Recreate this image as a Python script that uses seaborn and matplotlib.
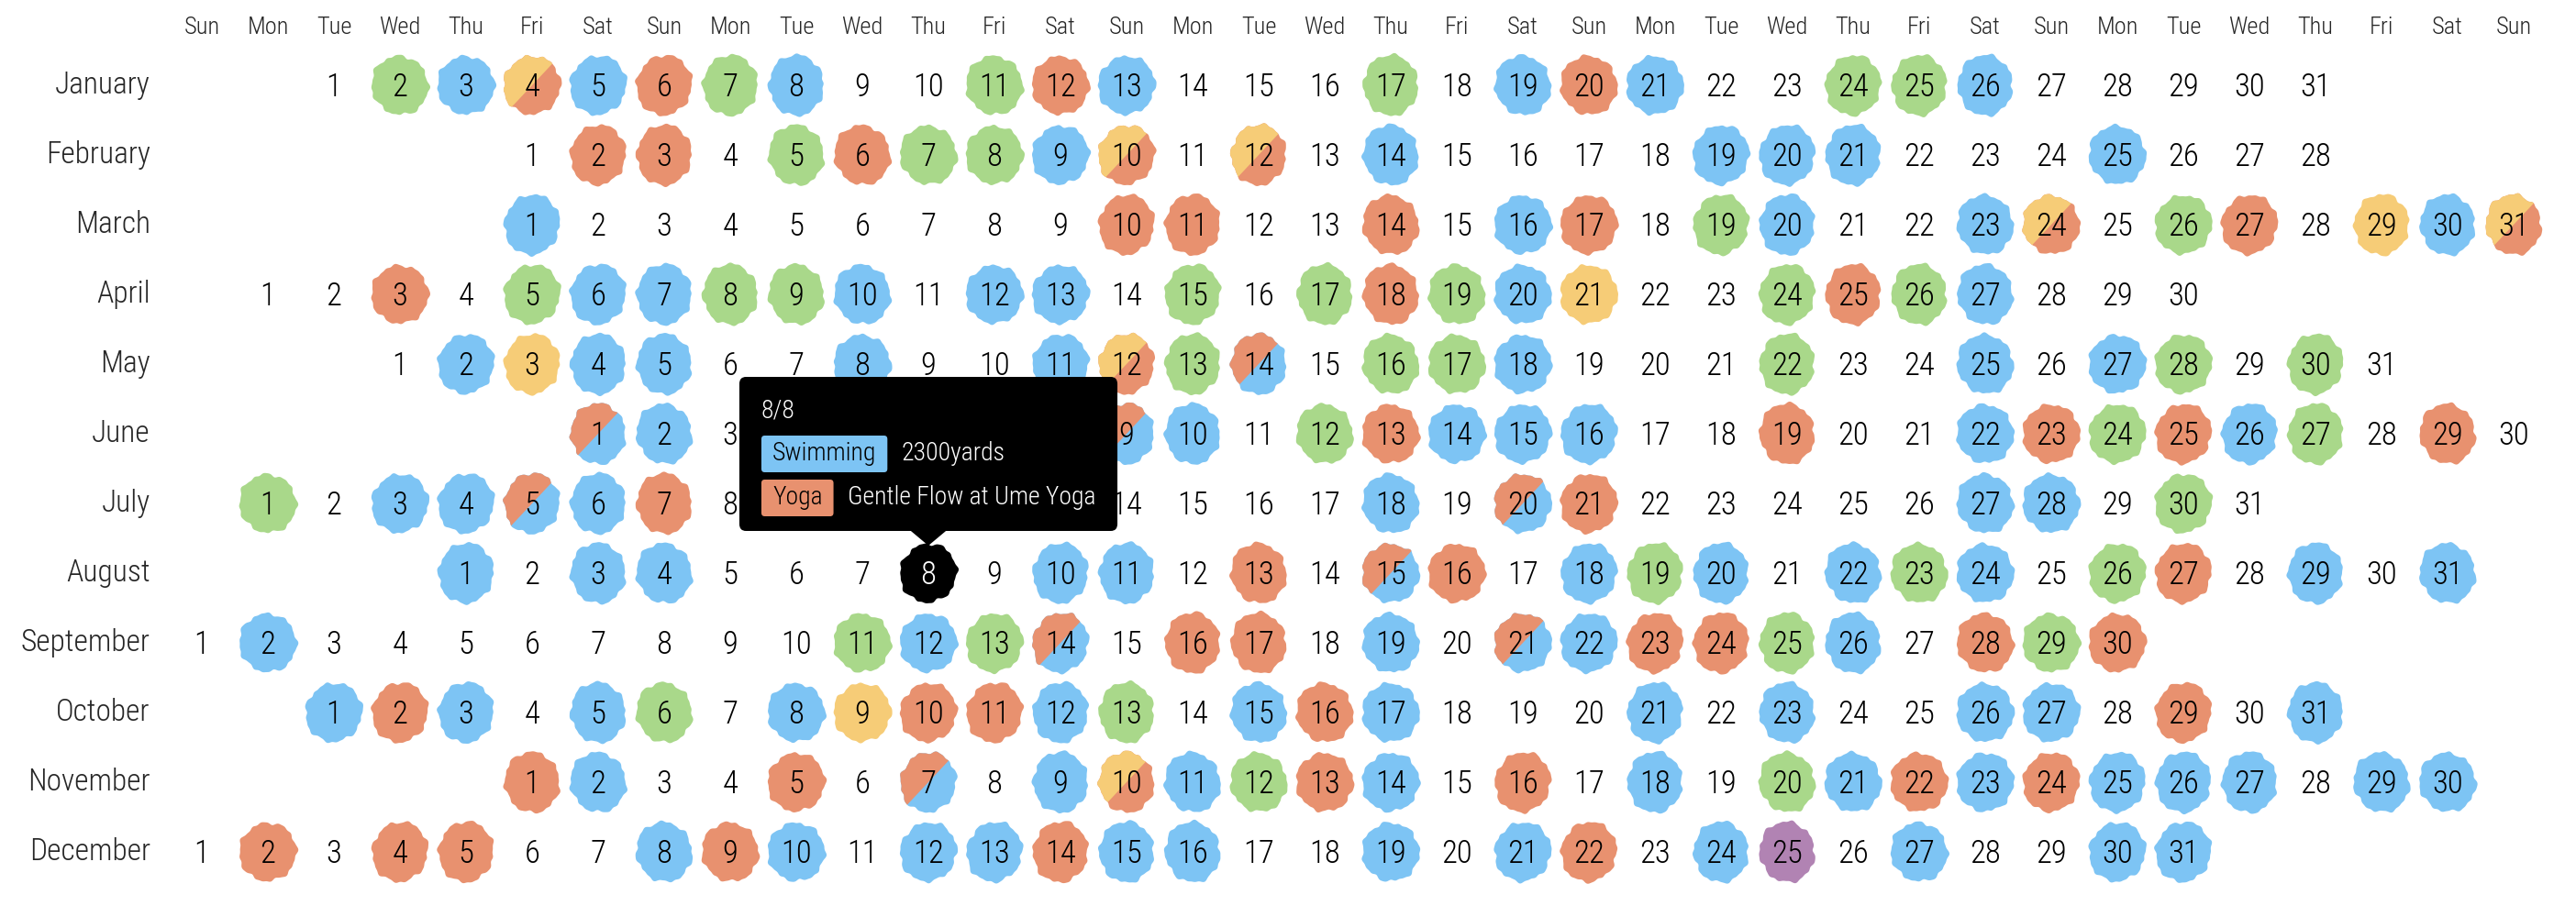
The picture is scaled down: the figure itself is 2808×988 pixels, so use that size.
import datetime
import numpy as np
import pandas as pd
import matplotlib
matplotlib.use("Agg")
import matplotlib.pyplot as plt
from matplotlib import font_manager
from matplotlib.patches import Polygon, FancyBboxPatch
import seaborn as sns

YEAR = 2019
month_names = ["January", "February", "March", "April", "May", "June", "July",
               "August", "September", "October", "November", "December"]
weekday_names = ["Sun", "Mon", "Tue", "Wed", "Thu", "Fri", "Sat"]
n_columns = 36

# one code per day: B swimming, O yoga, G / Y / P other activities,
# two letters = split blob (first colour top-left), "-" = nothing
january = "- G B YO B O G B - - G O B - - - G - B O B - - G G B - - - - -".split()
february = "- O O - G O G G B YO - YO - B - - - - B B B - - - B - - -".split()
march = "B - - - - - - - - O O - - O - B O - G B - - B YO - G O - Y B YO".split()
april = "- - O - G B B G G B - B B - G - G O G B Y - - G O G B - - -".split()
may = "- B Y B B - - B - - B YO G OB - G G B - - - G - - B - B G - G -".split()
june = "OB B - - - - - - OB B - G O B B B - - O - - B O G O B G - O -".split()
july = "G - B B OB B O - - - - - - - - - - B - OB O - - - - - B B - G -".split()
august = "B - B B - - - OB - B B - O - OB O - B G B - B G B - G O - B - B".split()
september = "- B - - - - - - - - G B G OB - O O - B - OB B O O G B - O G O".split()
october = "B O B - B G - B Y O O B G - B O B - - - B - B - - B B - O - B".split()
november = "O B - - O - OB - B YO B G O B - O - B - G B O B O B B B - B B".split()
december = "- O - O O - - B O B - B B O B B - - B - B O - B P - B - - B B".split()
activity_codes = [january, february, march, april, may, june, july,
                  august, september, october, november, december]

palette = {"B": "#7dc4f4", "O": "#e8916f", "G": "#a9d88a",
           "Y": "#f6cc77", "P": "#b183b3"}

# hovered day and its tooltip
hover_month, hover_day = 8, 8
tooltip_title = "8/8"
tooltip_labels = ["Swimming", "Yoga"]
tooltip_codes = ["B", "O"]
tooltip_values = ["2300yards", "Gentle Flow at Ume Yoga"]

# build the day table
records = []
for m, codes in enumerate(activity_codes):
    first = datetime.date(YEAR, m + 1, 1)
    offset = (first.weekday() + 1) % 7
    for d, code in enumerate(codes):
        records.append({"month": m, "day": d + 1, "col": offset + d, "code": code})
days = pd.DataFrame(records)

sns.set_theme(style="white")
available = {f.name for f in font_manager.fontManager.ttflist}
font = "DejaVu Sans"
for cand in ["Roboto Condensed", "Liberation Sans Narrow", "Open Sans Condensed", "DejaVu Sans"]:
    if cand in available:
        font = cand
        break
plt.rcParams["font.family"] = [font, "DejaVu Sans"]
plt.rcParams["font.weight"] = "light"

W, H = 2808, 988
col_w, row_h = 72.0, 76.0
x0, y0 = 220.0, 93.0
fig = plt.figure(figsize=(W / 100, H / 100), dpi=100)
ax = fig.add_axes([0, 0, 1, 1])
ax.set_xlim(-x0 / col_w, (W - x0) / col_w)
ax.set_ylim((H - y0) / row_h, -y0 / row_h)
ax.axis("off")

rx, ry = 30.5 / col_w, 32.5 / row_h


def blob_xy(cx, cy, seed):
    t = np.linspace(0, 2 * np.pi, 240, endpoint=False)
    r = (1 + 0.035 * np.sin(7 * t + seed) + 0.025 * np.sin(12 * t + 1.7 * seed)
         + 0.012 * np.sin(21 * t + 0.6 * seed) + 0.025 * np.sin(2 * t + seed))
    return np.column_stack([cx + rx * r * np.cos(t), cy + ry * r * np.sin(t)])


def upper_left(cx, cy):
    return Polygon([(cx - 3 * rx, cy + 3 * ry), (cx + 3 * rx, cy - 3 * ry),
                    (cx - 3 * rx, cy - 3 * ry)], closed=True, transform=ax.transData)


# tooltip geometry (box sits above the hovered day)
hv = days[(days["month"] == hover_month - 1) & (days["day"] == hover_day)].iloc[0]
hx, hy = hv["col"], hv["month"]
fs_tip = 20
pad_out, pad_badge, gap = 24, 12, 15

fig.canvas.draw()
renderer = fig.canvas.get_renderer()
label_texts, value_texts = [], []
for label, value in zip(tooltip_labels, tooltip_values):
    lt = ax.text(0, 0, label, ha="left", va="center", color="black", fontsize=fs_tip, zorder=12)
    vt = ax.text(0, 0, value, ha="left", va="center", color="white", fontsize=fs_tip, zorder=12)
    label_texts.append(lt)
    value_texts.append(vt)
label_w = [t.get_window_extent(renderer).width for t in label_texts]
value_w = [t.get_window_extent(renderer).width for t in value_texts]
content_w = max(2 * pad_badge + lw + gap + vw for lw, vw in zip(label_w, value_w))
box_w = max(412, content_w + 2 * pad_out)
left, right = hx - box_w / 2 / col_w, hx + box_w / 2 / col_w
top, bottom = hy - 214 / row_h, hy - 46 / row_h

# weekday header and month labels
for c in range(n_columns):
    ax.text(c, -0.83, weekday_names[c % 7], ha="center", va="center", fontsize=19)
for m, name in enumerate(month_names):
    ax.text(-0.78, m, name, ha="right", va="center", fontsize=24)

for i, r in days.iterrows():
    cx, cy = r["col"], r["month"]
    hovered = r["month"] + 1 == hover_month and r["day"] == hover_day
    code = r["code"]
    txt_color = "black"
    if hovered:
        ax.add_patch(Polygon(blob_xy(cx, cy, i * 0.7), closed=True, fc="black", ec="none", zorder=2))
        txt_color = "white"
    elif code != "-":
        pts = blob_xy(cx, cy, i * 0.7)
        ax.add_patch(Polygon(pts, closed=True, fc=palette[code[-1]], ec="none", zorder=2))
        if len(code) == 2:
            top_half = Polygon(pts, closed=True, fc=palette[code[0]], ec="none", zorder=2.1)
            ax.add_patch(top_half)
            top_half.set_clip_path(upper_left(cx, cy))
    # numbers fully under the tooltip are not visible
    if left < cx < right and top < cy < bottom:
        continue
    ax.text(cx, cy + 0.03, str(r["day"]), ha="center", va="center",
            fontsize=25, color=txt_color, zorder=3)

ax.add_patch(FancyBboxPatch((left, top), right - left, bottom - top,
                            boxstyle="round,pad=0,rounding_size=0.1",
                            fc="black", ec="none", zorder=10))
ax.add_patch(Polygon([(hx - 20 / col_w, bottom - 0.01), (hx + 20 / col_w, bottom - 0.01),
                      (hx, hy - 30 / row_h)], closed=True, fc="black", ec="none", zorder=10))
ax.text(left + pad_out / col_w, hy - 177 / row_h, tooltip_title, ha="left", va="center",
        color="white", fontsize=fs_tip, zorder=11)

row_y = [hy - 130 / row_h, hy - 82 / row_h]
badge_h = 40 / row_h
for lt, vt, lw, code, yy in zip(label_texts, value_texts, label_w, tooltip_codes, row_y):
    bx0 = left + pad_out / col_w
    bw = (lw + 2 * pad_badge) / col_w
    ax.add_patch(FancyBboxPatch((bx0, yy - badge_h / 2), bw, badge_h,
                                boxstyle="round,pad=0,rounding_size=0.05",
                                fc=palette[code], ec="none", zorder=11))
    lt.set_position((bx0 + pad_badge / col_w, yy))
    vt.set_position((bx0 + bw + gap / col_w, yy))

fig.savefig("out.png", dpi=100)
